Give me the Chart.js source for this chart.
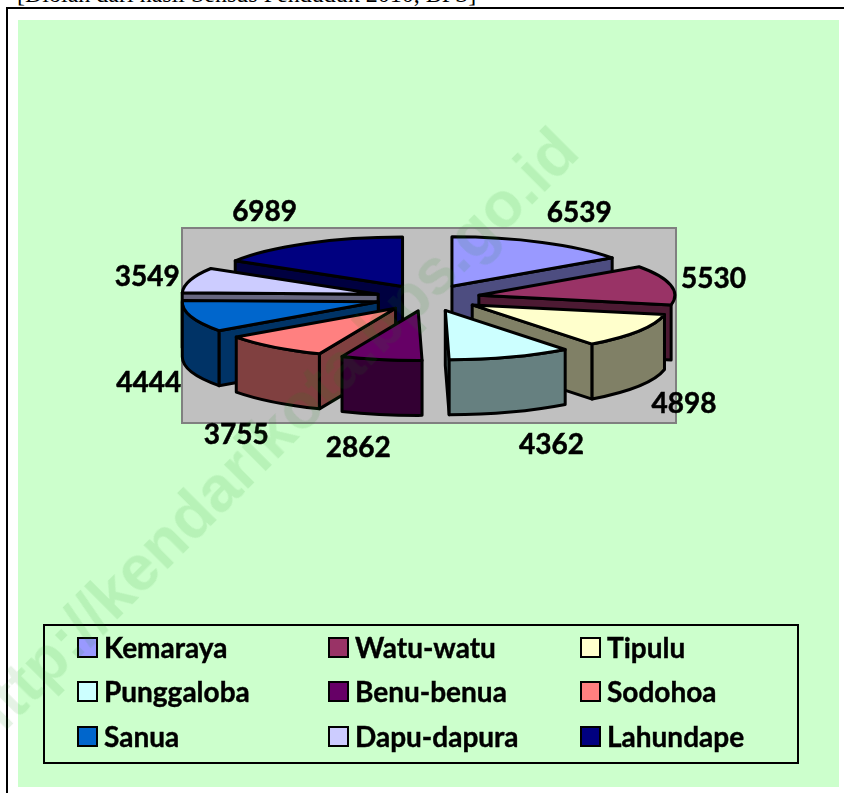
<!DOCTYPE html>
<html>
<head>
<meta charset="utf-8">
<script src="https://cdn.jsdelivr.net/npm/chart.js@4"></script>
<style>
html,body{margin:0;padding:0;background:#fff;overflow:hidden}
#page{position:relative;width:844px;height:793px;overflow:hidden}
#note{position:absolute;left:17px;top:-19px;font:24px "Liberation Serif",serif;color:#000;white-space:nowrap}
#frame{position:absolute;left:6px;top:7px;right:-10px;bottom:-10px;border:2.5px solid #000;background:#fff}
#green{position:absolute;left:18px;top:20px;right:5px;bottom:6px;background:#ccffcc}
#plot{position:absolute;left:181px;top:227px;width:492px;height:193px;background:#c0c0c0;border:2px solid #808080}
canvas{position:absolute;left:0;top:0}
#legend{position:absolute;left:43px;top:624px;width:752px;height:136px;border:2.5px solid #000}
.item{position:absolute;height:30px;font:bold 28px Lato,sans-serif;-webkit-text-stroke:.4px #000;color:#000;white-space:nowrap}
.item i{position:absolute;left:0;top:3px;width:17px;height:17px;border:2.5px solid #000;-webkit-text-stroke:0}
.item span{position:absolute;left:27px;top:-4px}
#mark{position:absolute;left:-150px;top:399px;font:bold 64px "Liberation Sans",sans-serif;color:rgba(20,140,20,.11);white-space:nowrap;transform:rotate(-45deg);transform-origin:50% 50%;pointer-events:none}
</style>
</head>
<body>
<div id="page">
  <div id="frame"></div>
  <div id="note">[Diolah dari hasil Sensus Penduduk 2010, BPS]</div>
  <div id="green"></div>
  <div id="plot"></div>
  <canvas id="pie" width="844" height="793"></canvas>
  <div id="legend"></div>
  <div id="mark">http://kendarikota.bps.go.id</div>
</div>
<script>
const kelurahan = ["Kemaraya","Watu-watu","Tipulu","Punggaloba","Benu-benua","Sodohoa","Sanua","Dapu-dapura","Lahundape"];
const penduduk = [6539,5530,4898,4362,2862,3755,4444,3549,6989];
const warna = ["#9999ff","#993366","#ffffcc","#ccffff","#660066","#ff8080","#0066cc","#ccccff","#000080"];
const warnaSisi = ["#4d4d80","#4d1a33","#808066","#668080","#330033","#804040","#003366","#666680","#000040"];

// label nudges from the outer edge of each slice
const labelDx = [37,43,45,41,-23,-37,-42,-43,-42];
const labelDy = [-29,-6,73,88,88,88,67,-3,-31];

const squash = 0.2525;
const depth = 55;
const explode = 52;
const lineW = 3;

// flattened pie with side walls, the library still lays out the slices
const pie3d = {
  id: "pie3d",
  beforeDatasetDraw(chart){
    const ctx = chart.ctx;
    const arcs = chart.getDatasetMeta(0).data;
    const order = arcs.map((a,i)=>i).sort((p,q)=>{
      const mp = (arcs[p].startAngle+arcs[p].endAngle)/2;
      const mq = (arcs[q].startAngle+arcs[q].endAngle)/2;
      return Math.sin(mp)-Math.sin(mq);
    });
    order.forEach(i=>drawSlice(ctx, arcs[i], i));
    ctx.font = "bold 28px Lato, sans-serif";
    ctx.fillStyle = "#000";
    ctx.strokeStyle = "#000";
    ctx.lineWidth = 0.5;
    ctx.textAlign = "center";
    ctx.textBaseline = "middle";
    arcs.forEach((a,i)=>{
      const mid = (a.startAngle+a.endAngle)/2;
      const o = apex(a);
      const x = o.x + Math.cos(mid)*a.outerRadius + labelDx[i];
      const y = o.y + Math.sin(mid)*a.outerRadius*squash + labelDy[i];
      ctx.fillText(String(penduduk[i]), x, y);
      ctx.strokeText(String(penduduk[i]), x, y);
    });
    return false;
  }
};

function apex(a){
  const mid = (a.startAngle+a.endAngle)/2;
  return { x: a.x+Math.cos(mid)*explode, y: a.y+Math.sin(mid)*explode*squash };
}
function rim(a,o,t){
  return { x:o.x+Math.cos(t)*a.outerRadius, y:o.y+Math.sin(t)*a.outerRadius*squash };
}
function norm(t){
  const p = Math.PI*2;
  return ((t%p)+p)%p;
}

function drawSlice(ctx, a, i){
  const o = apex(a);
  ctx.save();
  ctx.lineWidth = lineW;
  ctx.lineJoin = "round";
  ctx.strokeStyle = "#000";
  ctx.fillStyle = warnaSisi[i];

  // radial wall, only the one facing the viewer
  [a.startAngle,a.endAngle].forEach((t,k)=>{
    const faces = k===0 ? Math.cos(t)<0 : Math.cos(t)>0;
    if (!faces) return;
    const p = rim(a,o,t);
    ctx.beginPath();
    ctx.moveTo(o.x,o.y);
    ctx.lineTo(p.x,p.y);
    ctx.lineTo(p.x,p.y+depth);
    ctx.lineTo(o.x,o.y+depth);
    ctx.closePath();
    ctx.fill();
    ctx.stroke();
  });

  // outer wall between 0 and 180 degrees
  let s = norm(a.startAngle), e = s+(a.endAngle-a.startAngle);
  const from = Math.max(s,0), to = Math.min(e,Math.PI);
  if (to>from){
    ctx.beginPath();
    ctx.ellipse(o.x,o.y,a.outerRadius,a.outerRadius*squash,0,from,to);
    ctx.ellipse(o.x,o.y+depth,a.outerRadius,a.outerRadius*squash,0,to,from,true);
    ctx.closePath();
    ctx.fill();
    ctx.stroke();
  }

  // top face
  ctx.save();
  ctx.translate(o.x-a.x,o.y);
  ctx.scale(1,squash);
  ctx.translate(0,-a.y);
  a.draw(ctx);
  ctx.restore();

  ctx.beginPath();
  ctx.moveTo(o.x,o.y);
  ctx.ellipse(o.x,o.y,a.outerRadius,a.outerRadius*squash,0,a.startAngle,a.endAngle);
  ctx.closePath();
  ctx.stroke();
  ctx.restore();
}

new Chart(document.getElementById("pie"), {
  type: "pie",
  data: {
    labels: kelurahan,
    datasets: [{ data: penduduk, backgroundColor: warna, borderWidth: 0 }]
  },
  options: {
    responsive: false,
    animation: false,
    radius: 196,
    layout: { padding: { left: 12, bottom: 197 } },
    plugins: { legend: { display: false }, tooltip: { enabled: false } }
  },
  plugins: [pie3d]
});

// legend, 3 columns over 3 rows
const legend = document.getElementById("legend");
const colX = [32,283,535];
const rowY = [8,52,97];
kelurahan.forEach((name,i)=>{
  const el = document.createElement("div");
  el.className = "item";
  el.style.left = colX[i%3]+"px";
  el.style.top = rowY[Math.floor(i/3)]+"px";
  el.innerHTML = `<i style="background:${warna[i]}"></i><span>${name}</span>`;
  legend.appendChild(el);
});
</script>
</body>
</html>
